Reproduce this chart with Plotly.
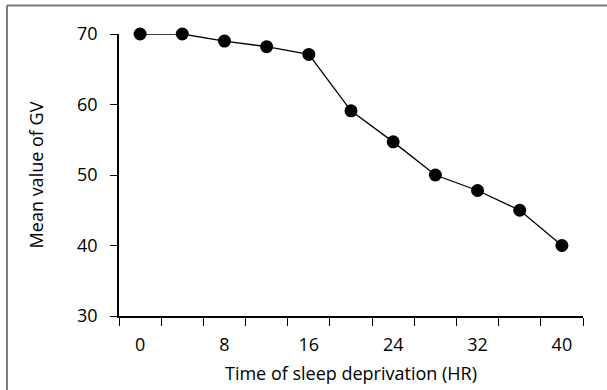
import plotly.graph_objects as go

hours = [0, 4, 8, 12, 16, 20, 24, 28, 32, 36, 40]
mean_gv = [70, 70, 69, 68.2, 67.1, 59.1, 54.7, 50.0, 47.8, 45.0, 40.0]
x_tick_labels = [0, 8, 16, 24, 32, 40]
x_minor_ticks = [-2, 2, 6, 10, 14, 18, 22, 26, 30, 34, 38, 42]
y_ticks = [30, 40, 50, 60, 70]

W, H = 607, 390
L, R, T, B = 119, 24, 34, 74
pw, ph = W - L - R, H - T - B

font = dict(family="Open Sans", size=18, color="black")

fig = go.Figure()
fig.add_trace(go.Scatter(
    x=hours, y=mean_gv, mode="lines+markers",
    line=dict(color="black", width=1.3),
    marker=dict(color="black", size=13),
    cliponaxis=False, showlegend=False,
))

fx0 = (7 - L) / pw
fx1 = (W + 20 - L) / pw
fy0 = (H - B - H - 20) / ph
fy1 = (H - B - 5.5) / ph
frame = dict(color="#7a7a7a", width=2)

fig.update_layout(
    width=W, height=H,
    margin=dict(l=L, r=R, t=T, b=B, pad=0, autoexpand=False),
    paper_bgcolor="white", plot_bgcolor="white",
    font=font,
    xaxis=dict(
        range=[-2, 42], tickmode="array", tickvals=x_tick_labels,
        ticktext=[str(v) for v in x_tick_labels],
        ticks="", showgrid=False, zeroline=False, automargin=False,
        showline=True, linecolor="black", linewidth=1.5,
        ticklabelstandoff=12,
        minor=dict(tickmode="array", tickvals=x_minor_ticks, ticks="outside",
                   ticklen=8, tickwidth=1.3, tickcolor="black", showgrid=False),
        title=dict(text="Time of sleep deprivation (HR)", standoff=12, font=font),
    ),
    yaxis=dict(
        range=[30, 70], tickmode="array", tickvals=y_ticks,
        ticks="outside", ticklen=7, tickwidth=1.3, tickcolor="black",
        showgrid=False, zeroline=False, automargin=False,
        showline=True, linecolor="black", linewidth=1.5,
        ticklabelstandoff=9,
        title=dict(text="Mean value of GV", standoff=29, font=font),
    ),
    shapes=[
        dict(type="line", xref="paper", yref="paper",
             x0=fx0, x1=fx0, y0=fy0, y1=fy1, line=frame, layer="below"),
        dict(type="line", xref="paper", yref="paper",
             x0=fx0, x1=fx1, y0=fy1, y1=fy1, line=frame, layer="below"),
    ],
)

fig.write_html("out.html", config={"displayModeBar": False},
               post_script="document.body.style.margin='0';document.body.style.overflow='hidden';document.documentElement.style.overflow='hidden';")
